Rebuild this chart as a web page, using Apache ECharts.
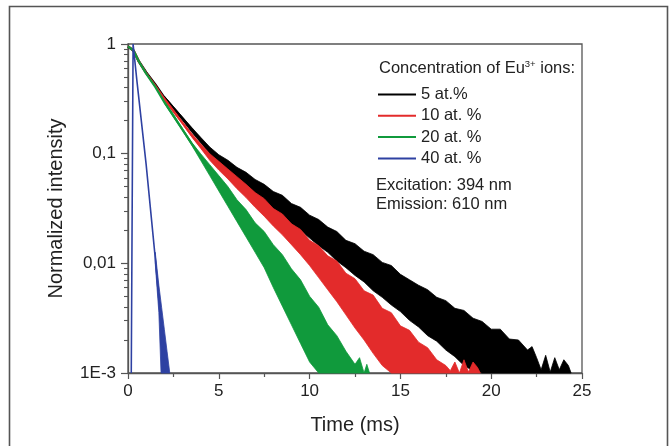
<!DOCTYPE html>
<html>
<head>
<meta charset="utf-8">
<script src="https://cdn.jsdelivr.net/npm/echarts@6/dist/echarts.min.js"></script>
<style>html,body{margin:0;padding:0;background:#fff}#c{width:672px;height:446px}</style>
</head>
<body>
<div id="c"></div>
<script>
// ---------- data ----------
const seriesNames = ['5 at.%', '10 at. %', '20 at. %', '40 at. %'];
const xTickValues = [0, 5, 10, 15, 20, 25];
const yTickValues = [0.001, 0.01, 0.1, 1];
const yTickLabels = ['1E-3', '0,01', '0,1', '1'];
const yMinorTicks = [0.002,0.003,0.004,0.005,0.006,0.007,0.008,0.009,
  0.02,0.03,0.04,0.05,0.06,0.07,0.08,0.09,0.2,0.3,0.4,0.5,0.6,0.7,0.8,0.9];

// early decay (time ms, intensity)
const earlyTime = [0, 0.3, 0.6, 1.0, 1.5, 2.0, 2.5, 3.0, 3.5, 4.0, 4.5, 5.0];
const blackEarly = [0.95, 0.871, 0.692, 0.55, 0.427, 0.324, 0.26, 0.209, 0.166, 0.133, 0.107, 0.0902];
const redEarly   = [0.95, 0.871, 0.692, 0.543, 0.417, 0.316, 0.245, 0.191, 0.148, 0.117, 0.0933, 0.0776];
const greenEarly = [0.95, 0.871, 0.692, 0.537, 0.407, 0.295, 0.221, 0.166, 0.124, 0.0933, 0.0741, 0.0537];
const blueLine = [[0.18, 0.001], [0.28, 1.0], [0.5, 0.447], [1.0, 0.0794], [1.5, 0.0112], [2.05, 0.001]];

// noise envelope of each decay curve: [time, intensity]
const blackUpper = [[2,0.335],[2.5,0.269],[3,0.216],[3.5,0.174],[4,0.141],[4.5,0.115],[5,0.0977],[5.5,0.0871],
  [6,0.075],[6.5,0.0676],[7,0.0582],[7.5,0.0525],[8,0.0452],[8.5,0.0417],[9,0.0351],[9.5,0.0324],[10,0.0275],
  [10.5,0.0251],[11,0.0214],[11.5,0.0195],[12,0.0162],[12.5,0.0151],[13,0.0129],[13.5,0.012],[14,0.0102],
  [14.5,0.00955],[15,0.00794],[15.5,0.00708],[16,0.00631],[16.5,0.00575],[17,0.0049],[17.5,0.00457],
  [18,0.00389],[18.5,0.00372],[19,0.00316],[19.5,0.00295],[20,0.00251],[20.5,0.00251],[21,0.00204],
  [21.5,0.002],[22,0.00162],[22.25,0.00174],[22.5,0.00138],[22.75,0.00107],[23,0.00145],[23.25,0.00102],
  [23.5,0.00138],[23.75,0.00107],[24,0.00132],[24.25,0.00117],[24.4,0.001]];
const blackLower = [[2,0.313],[2.5,0.251],[3,0.202],[3.5,0.158],[4,0.126],[4.5,0.1],[5,0.0813],[5.5,0.0692],
  [6,0.0596],[6.5,0.0501],[7,0.0437],[7.5,0.0372],[8,0.0316],[8.5,0.0275],[9,0.0229],[9.5,0.02],[10,0.017],
  [10.5,0.0145],[11,0.0126],[11.5,0.0105],[12,0.00912],[12.5,0.00776],[13,0.00676],[13.5,0.00562],[14,0.0049],
  [14.5,0.00417],[15,0.00363],[15.5,0.00302],[16,0.00263],[16.5,0.00219],[17,0.00195],[17.5,0.00162],
  [18,0.00141],[18.5,0.00117],[19,0.00105],[19.5,0.001],[24.4,0.001]];

const redUpper = [[2,0.324],[2.5,0.251],[3,0.195],[3.5,0.153],[4,0.123],[4.5,0.1],[5,0.0851],[5.5,0.0724],
  [6,0.0617],[6.5,0.0525],[7,0.0442],[7.5,0.0389],[8,0.0316],[8.5,0.0282],[9,0.0229],[9.5,0.0204],[10,0.0162],
  [10.5,0.0145],[11,0.0117],[11.5,0.0105],[12,0.00813],[12.5,0.00724],[13,0.00562],[13.5,0.00513],[14,0.00389],
  [14.5,0.00355],[15,0.00269],[15.5,0.00245],[16,0.00191],[16.5,0.0017],[17,0.00132],[17.5,0.00117],
  [17.75,0.00105],[18,0.00126],[18.25,0.001],[18.5,0.00132],[18.75,0.00102],[19,0.00126],[19.25,0.00112],[19.4,0.001]];
const redLower = [[2,0.309],[2.5,0.24],[3,0.186],[3.5,0.143],[4,0.112],[4.5,0.0871],[5,0.0708],[5.5,0.0589],
  [6,0.0479],[6.5,0.0398],[7,0.0324],[7.5,0.0269],[8,0.0219],[8.5,0.0182],[9,0.0148],[9.5,0.012],[10,0.00955],
  [10.5,0.00741],[11,0.00575],[11.5,0.00447],[12,0.00339],[12.5,0.00257],[13,0.002],[13.5,0.00151],[14,0.00117],
  [14.5,0.001],[19.4,0.001]];

const greenUpper = [[2,0.302],[2.5,0.229],[3,0.17],[3.5,0.127],[4,0.1],[4.5,0.0794],[5,0.0631],[5.5,0.0501],
  [6,0.038],[6.5,0.0309],[7,0.0234],[7.5,0.0195],[8,0.0148],[8.5,0.012],[9,0.00891],[9.5,0.00708],[10,0.00501],
  [10.5,0.00398],[11,0.00275],[11.5,0.00219],[12,0.00158],[12.5,0.0012],[12.75,0.00138],[13,0.001],
  [13.15,0.0012],[13.3,0.001]];
const greenLower = [[2,0.288],[2.5,0.216],[3,0.162],[3.5,0.12],[4,0.0871],[4.5,0.0631],[5,0.0457],[5.5,0.0331],
  [6,0.024],[6.5,0.0174],[7,0.0126],[7.5,0.00912],[8,0.00603],[8.5,0.00407],[9,0.00275],[9.5,0.00186],
  [10,0.00126],[10.5,0.001],[13.3,0.001]];

const blueUpper = [[1.5,0.0126],[1.7,0.0063],[1.85,0.00398],[2.0,0.00251],[2.15,0.00158],[2.3,0.001]];
const blueLower = [[1.5,0.01],[1.7,0.00355],[1.82,0.001],[2.3,0.001]];

// ---------- chart ----------
const colors = ['#000000', '#e32b2b', '#109a3c', '#2e41a2'];
const FONT = 'Liberation Sans, Arial, sans-serif';

function zip(t, v) { return t.map((x, i) => [x, v[i]]); }

function band(name, color, upper, lower, z) {
  return {
    type: 'custom', name: name, silent: true, z: z,
    data: [[upper[0][0], upper[0][1]]],
    renderItem: function (params, api) {
      const pts = [];
      upper.forEach(p => pts.push(api.coord(p)));
      for (let i = lower.length - 1; i >= 0; i--) pts.push(api.coord(lower[i]));
      return {
        type: 'polygon', shape: { points: pts },
        style: { fill: color, stroke: color, lineWidth: 0.8 }
      };
    }
  };
}

function line(name, color, data, width, z) {
  return {
    type: 'line', name: name, data: data, showSymbol: false, symbol: 'none', z: z,
    lineStyle: { color: color, width: width }, itemStyle: { color: color }, silent: true
  };
}

const chart = echarts.init(document.getElementById('c'), null, { renderer: 'canvas' });
chart.setOption({
  animation: false,
  backgroundColor: '#fff',
  grid: { left: 128, right: 90, top: 44, bottom: 73, show: true, borderColor: '#555', borderWidth: 1.3, backgroundColor: 'transparent' },
  legend: {
    data: seriesNames.map(n => ({ name: n, icon: 'rect' })),
    orient: 'vertical', left: 378, top: 86, itemWidth: 38, itemHeight: 2, itemGap: 4.3, padding: 0,
    textStyle: { fontFamily: FONT, fontSize: 16.5, color: '#222' }, selectedMode: false
  },
  xAxis: {
    type: 'value', min: 0, max: 25, interval: 5,
    name: 'Time (ms)', nameLocation: 'middle', nameGap: 42,
    nameTextStyle: { fontFamily: FONT, fontSize: 20, color: '#222' },
    axisLine: { lineStyle: { color: '#555', width: 1.3 } },
    axisTick: { show: true, length: 6, lineStyle: { color: '#555', width: 1.2 } },
    minorTick: { show: true, splitNumber: 2, length: 4, lineStyle: { color: '#555', width: 1.2 } },
    axisLabel: { fontFamily: FONT, fontSize: 17, color: '#222', margin: 10 },
    splitLine: { show: false }
  },
  yAxis: [{
    type: 'log', logBase: 10, min: 0.001, max: 1,
    name: 'Normalized intensity', nameLocation: 'middle', nameGap: 62,
    nameTextStyle: { fontFamily: FONT, fontSize: 20, color: '#222' },
    axisLine: { lineStyle: { color: '#555', width: 1.3 } },
    axisTick: { show: true, length: 7, customValues: yTickValues, lineStyle: { color: '#555', width: 1.2 } },
    axisLabel: {
      fontFamily: FONT, fontSize: 17, color: '#222', margin: 12, customValues: yTickValues,
      formatter: function (v) {
        const e = Math.round(Math.log10(v));
        const idx = yTickValues.findIndex(t => Math.round(Math.log10(t)) === e);
        return idx >= 0 ? yTickLabels[idx] : '';
      }
    },
    splitLine: { show: false }
  }, {
    type: 'log', logBase: 10, min: 0.001, max: 1, position: 'left', offset: 0,
    axisLine: { show: false },
    axisTick: { show: true, length: 4, customValues: yMinorTicks, lineStyle: { color: '#555', width: 1.1 } },
    axisLabel: { show: false },
    splitLine: { show: false }
  }],
  graphic: [
    { type: 'rect', silent: true, shape: { x: 9.5, y: 6.5, width: 658, height: 500 },
      style: { fill: 'none', stroke: '#555', lineWidth: 1.6 } },
    { type: 'text', left: 379, top: 59, silent: true,
      style: {
        text: '{a|Concentration of Eu}{s|3+}{a| ions:}',
        rich: {
          a: { fontFamily: FONT, fontSize: 16.5, fill: '#222' },
          s: { fontFamily: FONT, fontSize: 9.5, fill: '#222', padding: [0, 0, 9, 0] }
        }
      } },
    { type: 'text', left: 376, top: 177, silent: true,
      style: { text: 'Excitation: 394 nm', fontFamily: FONT, fontSize: 16.5, fill: '#222' } },
    { type: 'text', left: 376, top: 196, silent: true,
      style: { text: 'Emission: 610 nm', fontFamily: FONT, fontSize: 16.5, fill: '#222' } }
  ],
  series: [
    line(seriesNames[0], colors[0], zip(earlyTime, blackEarly), 2.5, 2),
    band(seriesNames[0], colors[0], blackUpper, blackLower, 2),
    line(seriesNames[1], colors[1], zip(earlyTime, redEarly), 2.2, 3),
    band(seriesNames[1], colors[1], redUpper, redLower, 3),
    line(seriesNames[2], colors[2], zip(earlyTime, greenEarly), 2.2, 4),
    band(seriesNames[2], colors[2], greenUpper, greenLower, 4),
    line(seriesNames[3], colors[3], blueLine, 1.6, 5),
    band(seriesNames[3], colors[3], blueUpper, blueLower, 5)
  ]
});
</script>
</body>
</html>
